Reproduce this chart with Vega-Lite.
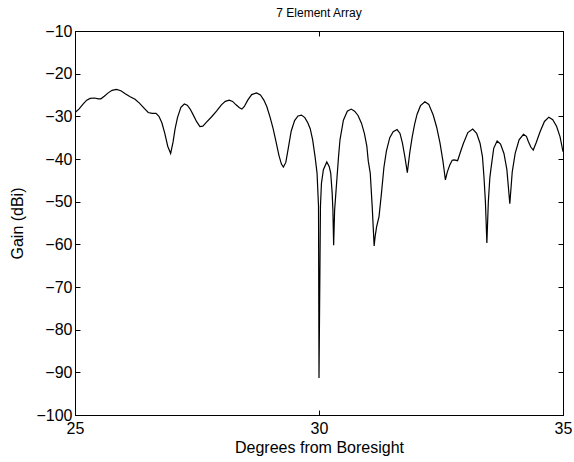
{
  "$schema": "https://vega.github.io/schema/vega-lite/v6.json",
  "width": 488,
  "height": 384,
  "autosize": "none",
  "padding": {"left": 75, "top": 31, "right": 11, "bottom": 47},
  "background": "white",
  "title": {"text": "7 Element Array", "fontSize": 12, "font": "Liberation Sans", "fontWeight": "normal", "color": "black", "offset": 3, "anchor": "middle"},
  "config": {
    "view": {"stroke": "black", "strokeWidth": 1},
    "axis": {
      "grid": false,
      "domainColor": "black",
      "tickColor": "black",
      "labelColor": "black",
      "titleColor": "black",
      "labelFont": "Liberation Sans",
      "titleFont": "Liberation Sans",
      "labelFontSize": 16,
      "titleFontSize": 16,
      "titleFontWeight": "normal",
      "tickSize": -5,
      "labelPadding": 8,
      "labelFlush": false
    }
  },
  "data": {"values": [
    {"deg": 25.00, "gain": -29.1}, {"deg": 25.08, "gain": -28.3}, {"deg": 25.16, "gain": -27.2}, {"deg": 25.24, "gain": -26.2},
    {"deg": 25.31, "gain": -25.8}, {"deg": 25.40, "gain": -25.7}, {"deg": 25.48, "gain": -25.9}, {"deg": 25.53, "gain": -25.9},
    {"deg": 25.60, "gain": -25.3}, {"deg": 25.68, "gain": -24.5}, {"deg": 25.76, "gain": -23.9}, {"deg": 25.85, "gain": -23.7},
    {"deg": 25.94, "gain": -24.0}, {"deg": 26.03, "gain": -24.7}, {"deg": 26.13, "gain": -25.4}, {"deg": 26.23, "gain": -26.0},
    {"deg": 26.32, "gain": -26.9}, {"deg": 26.41, "gain": -28.0}, {"deg": 26.50, "gain": -29.1}, {"deg": 26.58, "gain": -29.3},
    {"deg": 26.66, "gain": -29.3}, {"deg": 26.72, "gain": -30.0}, {"deg": 26.78, "gain": -31.5}, {"deg": 26.84, "gain": -34.0},
    {"deg": 26.90, "gain": -37.0}, {"deg": 26.96, "gain": -38.7}, {"deg": 27.01, "gain": -36.0}, {"deg": 27.05, "gain": -33.0},
    {"deg": 27.10, "gain": -30.3}, {"deg": 27.17, "gain": -27.9}, {"deg": 27.24, "gain": -27.1}, {"deg": 27.30, "gain": -27.4},
    {"deg": 27.36, "gain": -28.3}, {"deg": 27.42, "gain": -29.6}, {"deg": 27.49, "gain": -31.2}, {"deg": 27.56, "gain": -32.4},
    {"deg": 27.62, "gain": -32.3}, {"deg": 27.70, "gain": -31.3}, {"deg": 27.80, "gain": -30.1}, {"deg": 27.90, "gain": -28.8},
    {"deg": 28.00, "gain": -27.3}, {"deg": 28.08, "gain": -26.5}, {"deg": 28.16, "gain": -26.2}, {"deg": 28.23, "gain": -26.5},
    {"deg": 28.30, "gain": -27.3}, {"deg": 28.37, "gain": -28.0}, {"deg": 28.42, "gain": -28.3}, {"deg": 28.47, "gain": -27.7},
    {"deg": 28.54, "gain": -26.2}, {"deg": 28.62, "gain": -24.9}, {"deg": 28.72, "gain": -24.5}, {"deg": 28.80, "gain": -25.0},
    {"deg": 28.87, "gain": -26.2}, {"deg": 28.93, "gain": -27.7}, {"deg": 29.00, "gain": -30.3}, {"deg": 29.06, "gain": -32.9},
    {"deg": 29.12, "gain": -36.0}, {"deg": 29.18, "gain": -39.2}, {"deg": 29.23, "gain": -41.2}, {"deg": 29.27, "gain": -41.9},
    {"deg": 29.32, "gain": -40.8}, {"deg": 29.37, "gain": -37.5}, {"deg": 29.43, "gain": -33.5}, {"deg": 29.50, "gain": -31.0},
    {"deg": 29.57, "gain": -29.9}, {"deg": 29.64, "gain": -29.7}, {"deg": 29.71, "gain": -30.3}, {"deg": 29.77, "gain": -31.5},
    {"deg": 29.82, "gain": -32.9}, {"deg": 29.87, "gain": -35.5}, {"deg": 29.92, "gain": -39.5}, {"deg": 29.96, "gain": -43.3},
    {"deg": 29.99, "gain": -51.0}, {"deg": 30.00, "gain": -91.3}, {"deg": 30.03, "gain": -51.0}, {"deg": 30.05, "gain": -45.7},
    {"deg": 30.09, "gain": -42.5}, {"deg": 30.16, "gain": -40.7}, {"deg": 30.21, "gain": -41.8}, {"deg": 30.24, "gain": -43.3},
    {"deg": 30.27, "gain": -48.0}, {"deg": 30.285, "gain": -52.0}, {"deg": 30.30, "gain": -60.2}, {"deg": 30.32, "gain": -52.0},
    {"deg": 30.35, "gain": -47.3}, {"deg": 30.40, "gain": -39.5}, {"deg": 30.43, "gain": -35.5}, {"deg": 30.50, "gain": -30.9},
    {"deg": 30.58, "gain": -28.8}, {"deg": 30.66, "gain": -28.3}, {"deg": 30.73, "gain": -28.8}, {"deg": 30.80, "gain": -29.8},
    {"deg": 30.87, "gain": -31.6}, {"deg": 30.93, "gain": -34.0}, {"deg": 30.98, "gain": -37.0}, {"deg": 31.01, "gain": -40.5},
    {"deg": 31.05, "gain": -43.3}, {"deg": 31.09, "gain": -51.1}, {"deg": 31.13, "gain": -60.4}, {"deg": 31.15, "gain": -58.2},
    {"deg": 31.18, "gain": -55.9}, {"deg": 31.23, "gain": -53.5}, {"deg": 31.28, "gain": -48.0}, {"deg": 31.33, "gain": -42.0},
    {"deg": 31.38, "gain": -38.2}, {"deg": 31.45, "gain": -35.0}, {"deg": 31.52, "gain": -33.6}, {"deg": 31.60, "gain": -33.1},
    {"deg": 31.66, "gain": -34.0}, {"deg": 31.71, "gain": -36.3}, {"deg": 31.76, "gain": -39.5}, {"deg": 31.81, "gain": -43.2},
    {"deg": 31.86, "gain": -38.5}, {"deg": 31.91, "gain": -34.8}, {"deg": 31.96, "gain": -31.8}, {"deg": 32.01, "gain": -29.5},
    {"deg": 32.08, "gain": -27.5}, {"deg": 32.17, "gain": -26.6}, {"deg": 32.25, "gain": -27.2}, {"deg": 32.34, "gain": -29.7},
    {"deg": 32.41, "gain": -32.5}, {"deg": 32.48, "gain": -36.3}, {"deg": 32.54, "gain": -40.5}, {"deg": 32.59, "gain": -44.9},
    {"deg": 32.63, "gain": -43.0}, {"deg": 32.68, "gain": -41.4}, {"deg": 32.73, "gain": -40.3}, {"deg": 32.77, "gain": -40.2},
    {"deg": 32.84, "gain": -40.4}, {"deg": 32.90, "gain": -38.3}, {"deg": 32.96, "gain": -36.3}, {"deg": 33.05, "gain": -33.8},
    {"deg": 33.15, "gain": -33.0}, {"deg": 33.23, "gain": -34.0}, {"deg": 33.30, "gain": -36.3}, {"deg": 33.35, "gain": -39.5},
    {"deg": 33.38, "gain": -44.1}, {"deg": 33.41, "gain": -50.0}, {"deg": 33.44, "gain": -59.7}, {"deg": 33.47, "gain": -50.0},
    {"deg": 33.50, "gain": -44.5}, {"deg": 33.52, "gain": -42.6}, {"deg": 33.58, "gain": -37.5}, {"deg": 33.65, "gain": -35.8},
    {"deg": 33.72, "gain": -36.5}, {"deg": 33.79, "gain": -38.7}, {"deg": 33.85, "gain": -42.5}, {"deg": 33.91, "gain": -50.5},
    {"deg": 33.96, "gain": -43.0}, {"deg": 34.02, "gain": -38.7}, {"deg": 34.10, "gain": -35.5}, {"deg": 34.19, "gain": -34.2},
    {"deg": 34.25, "gain": -34.7}, {"deg": 34.29, "gain": -35.9}, {"deg": 34.34, "gain": -37.2}, {"deg": 34.39, "gain": -37.9},
    {"deg": 34.45, "gain": -36.2}, {"deg": 34.53, "gain": -33.6}, {"deg": 34.62, "gain": -31.2}, {"deg": 34.71, "gain": -30.2},
    {"deg": 34.79, "gain": -30.8}, {"deg": 34.87, "gain": -32.4}, {"deg": 34.94, "gain": -34.8}, {"deg": 35.00, "gain": -38.3}
  ]},
  "layer": [
    {
      "mark": {"type": "line", "color": "black", "strokeWidth": 1.2, "clip": true},
      "encoding": {
        "x": {"field": "deg", "type": "quantitative", "scale": {"domain": [25, 35], "nice": false, "zero": false},
              "axis": {"orient": "bottom", "values": [25, 30, 35], "title": "Degrees from Boresight", "titlePadding": 3, "labelPadding": 10}},
        "y": {"field": "gain", "type": "quantitative", "scale": {"domain": [-100, -10], "nice": false, "zero": false},
              "axis": {"orient": "left", "values": [-100, -90, -80, -70, -60, -50, -40, -30, -20, -10], "title": "Gain (dBi)", "titlePadding": 10}}
      }
    },
    {
      "mark": {"type": "line", "color": "black", "strokeWidth": 1.2, "opacity": 0, "clip": true},
      "encoding": {
        "x": {"field": "deg", "type": "quantitative", "scale": {"domain": [25, 35], "nice": false, "zero": false},
              "axis": {"orient": "top", "values": [25, 30, 35], "labels": false, "title": null, "domain": true}},
        "y": {"field": "gain", "type": "quantitative", "scale": {"domain": [-100, -10], "nice": false, "zero": false},
              "axis": {"orient": "right", "values": [-100, -90, -80, -70, -60, -50, -40, -30, -20, -10], "labels": false, "title": null, "domain": true}}
      }
    }
  ],
  "resolve": {"axis": {"x": "independent", "y": "independent"}}
}
